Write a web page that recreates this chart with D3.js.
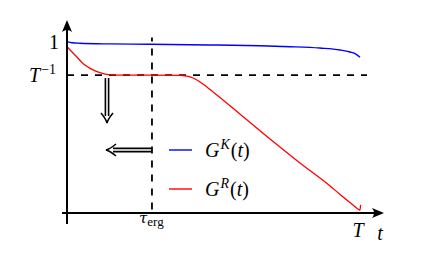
<!DOCTYPE html>
<html><head><meta charset="utf-8">
<script src="https://cdn.jsdelivr.net/npm/d3@7"></script>
<style>body{margin:0;background:#fff}svg{display:block}text{font-family:"Liberation Serif",serif}</style>
</head><body>
<script>
// Data (t normalised so that T = 1; values normalised so that G(0) ≈ 1)
const blueT = [0, 0.017, 0.044, 0.147, 0.283, 0.488, 0.659, 0.761, 0.863, 0.932, 0.966, 0.986, 1.0];
const blueV = [0.996, 0.990, 0.987, 0.983, 0.981, 0.977, 0.972, 0.967, 0.959, 0.948, 0.936, 0.924, 0.905];
const redT = [0, 0.027, 0.061, 0.096, 0.130, 0.164, 0.283, 0.386, 0.403, 0.420, 0.437, 0.454, 0.471, 0.488, 0.505, 0.590, 0.693, 0.795, 0.898, 0.932, 0.959, 0.980, 0.993, 1.0, 1.002];
const redV = [0.967, 0.919, 0.860, 0.826, 0.808, 0.802, 0.802, 0.800, 0.797, 0.791, 0.779, 0.762, 0.741, 0.718, 0.695, 0.576, 0.430, 0.291, 0.157, 0.108, 0.070, 0.041, 0.023, 0.017, 0.047];
const tauErg = 0.29;
const invT = 0.802;
const seriesNames = [["G","K"],["G","R"]];
const seriesColors = ["#0000ff","#ff0000"];

const W = 423, H = 254;
const svg = d3.select("body").append("svg").attr("width", W).attr("height", H);
const x = d3.scaleLinear().domain([0, 1]).range([67, 360]);
const y = d3.scaleLinear().domain([0, 1]).range([213, 41]);

// dashed guides
svg.append("line").attr("x1", x(0)).attr("x2", x(1.024)).attr("y1", y(invT)).attr("y2", y(invT))
  .attr("stroke", "#000").attr("stroke-width", 1.8).attr("stroke-dasharray", "7,7");
svg.append("line").attr("x1", x(tauErg)).attr("x2", x(tauErg)).attr("y1", y(1.02)).attr("y2", y(0))
  .attr("stroke", "#000").attr("stroke-width", 1.8).attr("stroke-dasharray", "7,7").attr("stroke-dashoffset", 3);

// curves
const line = d3.line().x(d => x(d[0])).y(d => y(d[1])).curve(d3.curveMonotoneX);
svg.append("path").datum(blueT.map((t, i) => [t, blueV[i]])).attr("d", line)
  .attr("fill", "none").attr("stroke", seriesColors[0]).attr("stroke-width", 1.4);
svg.append("path").datum(redT.map((t, i) => [t, redV[i]])).attr("d", line)
  .attr("fill", "none").attr("stroke", seriesColors[1]).attr("stroke-width", 1.3);

// axes
svg.append("line").attr("x1", x(0)).attr("x2", x(0)).attr("y1", 224).attr("y2", 28)
  .attr("stroke", "#000").attr("stroke-width", 2);
svg.append("line").attr("x1", 62).attr("x2", 377).attr("y1", y(0)).attr("y2", y(0))
  .attr("stroke", "#000").attr("stroke-width", 2);
function head(cx, cy, angle) {
  svg.append("path").attr("d", "M0,0 L-12,-5 Q-8,0 -12,5 Z")
    .attr("transform", `translate(${cx},${cy}) rotate(${angle})`).attr("fill", "#000");
}
head(x(0), 20, -90);
head(384, y(0), 0);

// double arrows
function dbl(x1, y1, x2, y2, ang) {
  const dx = Math.cos(ang * Math.PI / 180), dy = Math.sin(ang * Math.PI / 180);
  const nx = -dy * 1.6, ny = dx * 1.6;
  [1, -1].forEach(s => svg.append("line")
    .attr("x1", x1 + s * nx).attr("y1", y1 + s * ny).attr("x2", x2 + s * nx).attr("y2", y2 + s * ny)
    .attr("stroke", "#000").attr("stroke-width", 1.6));
  const ex = x2 + dx * 6, ey = y2 + dy * 6;
  svg.append("path").attr("d", "M-9,-6 Q-3,-1 1,0 Q-3,1 -9,6")
    .attr("transform", `translate(${ex},${ey}) rotate(${ang})`)
    .attr("fill", "none").attr("stroke", "#000").attr("stroke-width", 1.5);
}
dbl(107, 78, 107, 116, 90);
dbl(151, 150, 113, 150, 180);

// axis labels
svg.append("text").attr("x", 59).attr("y", 49).attr("text-anchor", "end")
  .attr("font-size", 20).text("1");
const tl = svg.append("text").attr("x", 29).attr("y", 82).attr("font-size", 20);
tl.append("tspan").attr("font-style", "italic").text("T");
tl.append("tspan").attr("dx", 1).attr("dy", -8).attr("font-size", 14).text("−1");

const te = svg.append("text").attr("x", x(tauErg) - 13).attr("y", 223).attr("font-size", 17);
te.append("tspan").attr("font-style", "italic").attr("font-family", "DejaVu Serif").attr("font-size", 15).text("τ");
te.append("tspan").attr("dy", 3).attr("font-size", 13).text("erg");

svg.append("text").attr("x", x(1) - 2).attr("y", 237).attr("text-anchor", "middle")
  .attr("font-size", 20).attr("font-style", "italic").text("T");
svg.append("text").attr("x", 380).attr("y", 240).attr("text-anchor", "middle")
  .attr("font-size", 20).attr("font-style", "italic").text("t");

// legend
const legY = [150, 189];
seriesNames.forEach((nm, i) => {
  svg.append("line").attr("x1", 169).attr("x2", 192).attr("y1", legY[i]).attr("y2", legY[i])
    .attr("stroke", seriesColors[i]).attr("stroke-width", 1.4);
  const t = svg.append("text").attr("x", 205).attr("y", legY[i] + 7).attr("font-size", 20);
  t.append("tspan").attr("font-style", "italic").text(nm[0]);
  t.append("tspan").attr("dx", 1).attr("dy", -8).attr("font-size", 14).attr("font-style", "italic").text(nm[1]);
  t.append("tspan").attr("dx", 1).attr("dy", 8).text("(");
  t.append("tspan").attr("font-style", "italic").text("t");
  t.append("tspan").text(")");
});
</script>
</body></html>
